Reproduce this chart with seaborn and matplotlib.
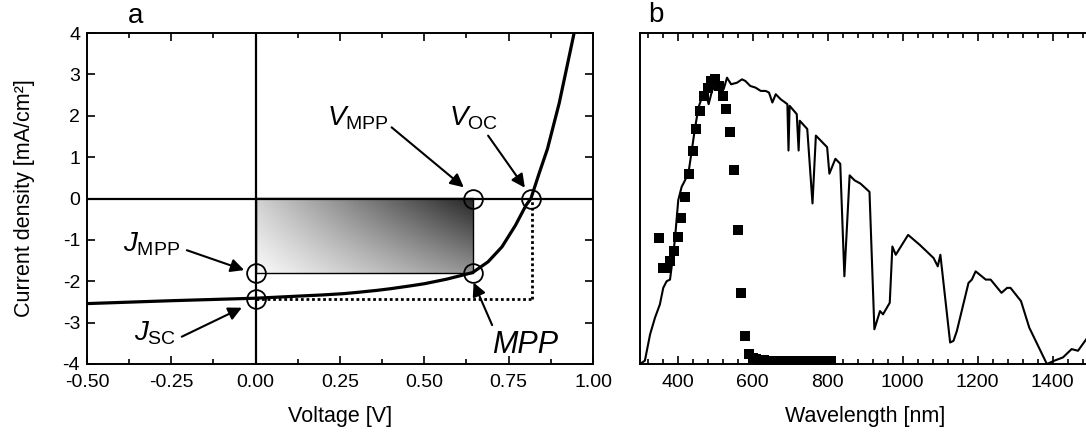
import numpy as np
import matplotlib
matplotlib.use("Agg")
import matplotlib.pyplot as plt
from matplotlib.patches import Rectangle
from matplotlib.ticker import MultipleLocator, FormatStrFormatter
import seaborn as sns

# ---------------- (a) J-V characteristic ----------------
voltage = [-0.50, -0.25, 0.00, 0.10, 0.20, 0.26, 0.30, 0.36, 0.40, 0.46, 0.50,
           0.566, 0.60, 0.643, 0.689, 0.730, 0.770, 0.801, 0.816, 0.84, 0.865,
           0.90, 0.944, 0.97]
current_density = [-2.54, -2.47, -2.41, -2.37, -2.33, -2.30, -2.27, -2.22, -2.18,
                   -2.11, -2.06, -1.95, -1.88, -1.79, -1.53, -1.17, -0.65, -0.17,
                   0.00, 0.60, 1.20, 2.31, 4.00, 5.00]

j_sc = -2.42
v_oc = 0.82
v_mpp = 0.643
j_mpp = -1.79

x_ticks_a = [-0.50, -0.25, 0.00, 0.25, 0.50, 0.75, 1.00]
y_ticks_a = [-4, -3, -2, -1, 0, 1, 2, 3, 4]

# ---------------- (b) spectrum and quantum efficiency ----------------
wavelength = [300, 313, 327, 340, 353, 362, 371, 380, 384, 393, 402, 411, 420, 429,
              438, 447, 456, 465, 474, 483, 492, 501, 510, 523, 532, 543, 559, 572,
              581, 594, 608, 622, 635, 644, 653, 662, 675, 693, 696, 699, 718, 723,
              726, 746, 760, 769, 799, 805, 821, 834, 845, 859, 872, 888, 912, 925,
              940, 948, 966, 973, 982, 1015, 1046, 1083, 1094, 1101, 1127, 1136,
              1145, 1176, 1185, 1195, 1222, 1235, 1264, 1279, 1288, 1316, 1338,
              1385, 1405, 1428, 1451, 1468, 1487, 1500]
irradiance = [0.00, 0.02, 0.18, 0.28, 0.36, 0.46, 0.50, 0.51, 0.58, 0.75, 0.99, 1.07,
              1.11, 1.15, 1.29, 1.43, 1.55, 1.61, 1.65, 1.57, 1.65, 1.69, 1.66, 1.66,
              1.73, 1.69, 1.70, 1.72, 1.71, 1.68, 1.67, 1.65, 1.65, 1.64, 1.58, 1.63,
              1.60, 1.57, 1.29, 1.56, 1.51, 1.29, 1.47, 1.42, 0.97, 1.38, 1.31, 1.15,
              1.24, 1.21, 0.53, 1.14, 1.11, 1.09, 1.04, 0.21, 0.32, 0.30, 0.37, 0.71,
              0.66, 0.78, 0.72, 0.64, 0.59, 0.66, 0.13, 0.14, 0.20, 0.49, 0.51, 0.56,
              0.51, 0.51, 0.43, 0.46, 0.46, 0.38, 0.22, 0.00, 0.02, 0.04, 0.09, 0.08,
              0.14, 0.18]

eqe_wavelength = [350, 360, 370, 380, 390, 400, 410, 420, 430, 440, 450, 460, 470,
                  480, 490, 500, 510, 520, 530, 540, 550, 560, 570, 580, 590, 600,
                  610, 620, 630, 640, 650, 660, 670, 680, 690, 700, 710, 720, 730,
                  740, 750, 760, 770, 780, 790, 800, 810]
eqe = [0.76, 0.58, 0.58, 0.62, 0.68, 0.77, 0.88, 1.01, 1.15, 1.29, 1.42, 1.53, 1.62,
       1.67, 1.71, 1.72, 1.68, 1.62, 1.54, 1.40, 1.17, 0.81, 0.43, 0.17, 0.06, 0.035,
       0.03, 0.025, 0.025, 0.02, 0.02, 0.02, 0.02, 0.02, 0.02, 0.02, 0.02, 0.02, 0.02,
       0.02, 0.02, 0.02, 0.02, 0.02, 0.02, 0.02, 0.02]

x_ticks_b = [400, 600, 800, 1000, 1200, 1400]

# ---------------- style ----------------
sns.set_theme(style="ticks")
plt.rcParams.update({
    "font.family": ["Liberation Sans", "DejaVu Sans"],
    "mathtext.fontset": "custom",
    "mathtext.rm": "Liberation Sans",
    "mathtext.it": "Liberation Sans:italic",
    "mathtext.bf": "Liberation Sans:bold",
    "axes.unicode_minus": False,
    "axes.linewidth": 1.4,
    "axes.edgecolor": "black",
    "xtick.color": "black",
    "ytick.color": "black",
    "text.color": "black",
    "axes.labelcolor": "black",
})

W, H = 1086, 434
fig = plt.figure(figsize=(W / 100, H / 100), dpi=100)
ax_a = fig.add_axes([87 / W, 70 / H, 506 / W, 331 / H])
ax_b = fig.add_axes([640 / W, 70 / H, 450 / W, 331 / H])

# ---- panel a ----
# shaded power rectangle with a diagonal grey gradient
u = np.linspace(0, 1, 300)[None, :]
r = np.linspace(0, 1, 120)[:, None]
top = 0.82 * (1 - u) + 0.15 * u
bottom = 0.98 * (1 - u) + 0.58 * u
shade = top * (1 - r) + bottom * r
ax_a.imshow(shade, cmap="gray", vmin=0, vmax=1, extent=[0, v_mpp, j_mpp, 0],
            origin="upper", aspect="auto", interpolation="bilinear", zorder=1)
ax_a.add_patch(Rectangle((0, j_mpp), v_mpp, -j_mpp, fill=False, lw=1.0,
                         ec="black", zorder=2))

ax_a.axhline(0, color="black", lw=1.6, zorder=2)
ax_a.axvline(0, color="black", lw=1.6, zorder=2)

ax_a.plot([0, v_oc], [j_sc, j_sc], color="black", lw=2.0, ls=(0, (1, 1)), zorder=2)
ax_a.plot([v_oc, v_oc], [j_sc, 0], color="black", lw=2.0, ls=(0, (1, 1)), zorder=2)

sns.lineplot(x=voltage, y=current_density, ax=ax_a, color="black", linewidth=2.3,
             sort=False, estimator=None, zorder=3)

circle_v = [0, 0, v_mpp, v_mpp, 0.816]
circle_j = [j_mpp, j_sc, j_mpp, 0, 0]
ax_a.plot(circle_v, circle_j, ls="none", marker="o", ms=13.5, mfc="none",
          mec="black", mew=1.3, zorder=4)

arrow = dict(arrowstyle="-|>", color="black", lw=1.5, mutation_scale=20,
             shrinkA=0, shrinkB=0)
label_fs = 20
ax_a.text(0.212, 1.76, r"$V_{\mathrm{MPP}}$", fontsize=label_fs, ha="left", va="baseline")
ax_a.annotate("", xy=(0.617, 0.27), xytext=(0.403, 1.72), arrowprops=arrow)
ax_a.text(0.572, 1.76, r"$V_{\mathrm{OC}}$", fontsize=label_fs, ha="left", va="baseline")
ax_a.annotate("", xy=(0.798, 0.26), xytext=(0.689, 1.52), arrowprops=arrow)
ax_a.text(-0.392, -1.29, r"$J_{\mathrm{MPP}}$", fontsize=label_fs, ha="left", va="baseline")
ax_a.annotate("", xy=(-0.034, -1.73), xytext=(-0.204, -1.25), arrowprops=arrow)
ax_a.text(-0.36, -3.42, r"$J_{\mathrm{SC}}$", fontsize=label_fs, ha="left", va="baseline")
ax_a.annotate("", xy=(-0.041, -2.64), xytext=(-0.219, -3.34), arrowprops=arrow)
ax_a.text(0.700, -3.74, "MPP", fontsize=22, style="italic", ha="left", va="baseline")
ax_a.annotate("", xy=(0.646, -2.03), xytext=(0.701, -3.06), arrowprops=arrow)

ax_a.set_xlim(-0.5, 1.0)
ax_a.set_ylim(-4, 4)
ax_a.set_xticks(x_ticks_a)
ax_a.set_yticks(y_ticks_a)
ax_a.xaxis.set_minor_locator(MultipleLocator(0.125))
ax_a.xaxis.set_major_formatter(FormatStrFormatter("%.2f"))
ax_a.yaxis.set_major_formatter(FormatStrFormatter("%d"))
ax_a.tick_params(which="both", direction="in", top=True, right=True, width=1.2,
                 labelsize=14)
ax_a.tick_params(axis="x", pad=7)
ax_a.tick_params(axis="y", pad=5)
ax_a.tick_params(which="major", length=6)
ax_a.tick_params(which="minor", length=3.5)
ax_a.set_xlabel("Voltage [V]", fontsize=15.5, labelpad=11)
ax_a.set_ylabel("Current density [mA/cm²]", fontsize=15.5, labelpad=20)

# ---- panel b ----
sns.lineplot(x=wavelength, y=irradiance, ax=ax_b, color="black", linewidth=1.5,
             sort=False, estimator=None, zorder=2)
sns.scatterplot(x=eqe_wavelength, y=eqe, ax=ax_b, marker="s", s=60, color="black",
                edgecolor="black", linewidth=0, zorder=3)

ax_b.set_xlim(300, 1500)
ax_b.set_ylim(0, 2.0)
ax_b.set_xticks(x_ticks_b)
ax_b.xaxis.set_minor_locator(MultipleLocator(40))
ax_b.tick_params(axis="x", which="both", direction="in", top=True, bottom=True,
                 width=1.2, labelsize=14, pad=7)
ax_b.tick_params(axis="x", which="major", length=6)
ax_b.tick_params(axis="x", which="minor", length=3.5)
ax_b.tick_params(axis="y", which="both", left=False, right=False, labelleft=False)
ax_b.set_xlabel("Wavelength [nm]", fontsize=15.5, labelpad=11)
ax_b.set_ylabel("")

fig.text(136 / W, 1 - 16 / H, "a", fontsize=20, ha="center", va="center")
fig.text(656 / W, 1 - 15 / H, "b", fontsize=20, ha="center", va="center")

fig.savefig("out.png", dpi=100)
